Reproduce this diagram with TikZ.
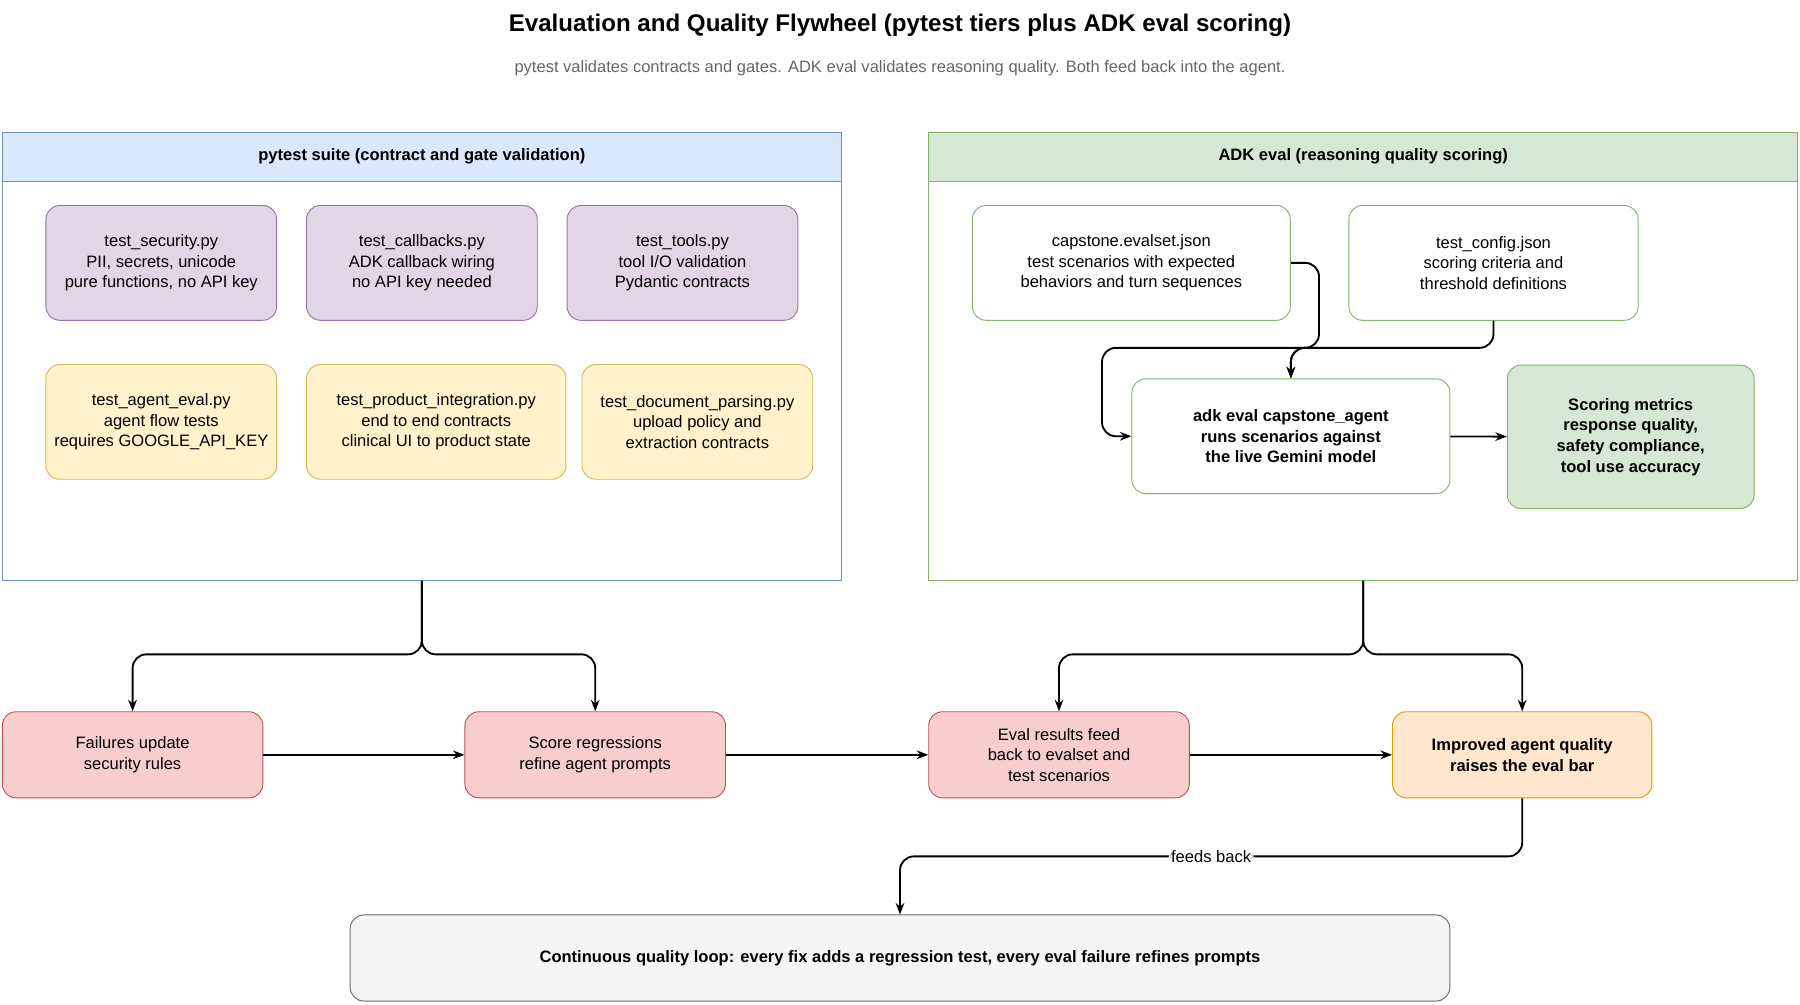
\documentclass[tikz,border=0pt]{standalone}
\usepackage{fontspec}
\setmainfont{Liberation Sans}
\usetikzlibrary{positioning,arrows.meta}
\definecolor{blueF}{HTML}{DAE8FC}\definecolor{blueD}{HTML}{6C8EBF}
\definecolor{greenF}{HTML}{D5E8D4}\definecolor{greenD}{HTML}{82B366}
\definecolor{purpF}{HTML}{E1D5E7}\definecolor{purpD}{HTML}{9673A6}
\definecolor{yelF}{HTML}{FFF2CC}\definecolor{yelD}{HTML}{D6B656}
\definecolor{redF}{HTML}{F8CECC}\definecolor{redD}{HTML}{B85450}
\definecolor{orF}{HTML}{FFE6CC}\definecolor{orD}{HTML}{D79B00}
\definecolor{grF}{HTML}{F5F5F5}\definecolor{grD}{HTML}{666666}
\tikzset{
  box/.style={draw,rounded corners=6pt,align=center,font=\fontsize{7.2}{9}\selectfont,inner sep=1pt},
  purp/.style={box,fill=purpF,draw=purpD,minimum width=100.5pt,minimum height=50pt},
  yel/.style={box,fill=yelF,draw=yelD,minimum height=50pt},
  wbox/.style={box,draw=greenD,fill=white,minimum height=50pt},
  red/.style={box,fill=redF,draw=redD,minimum width=113.5pt,minimum height=37.5pt},
  arr/.style={-{Stealth[length=5pt]},thick,rounded corners=6pt},
}
\begin{document}
\begin{tikzpicture}[x=0.5pt,y=-0.5pt]
  \useasboundingbox (0,0) rectangle (1568,875);
  \node[font=\bfseries\fontsize{10.5}{12}\selectfont] (title) at (784,22) {Evaluation and Quality Flywheel (pytest tiers plus ADK eval scoring)};
  \node[font=\fontsize{7.2}{9}\selectfont,text=grD] (sub) at (784,59) {pytest validates contracts and gates. ADK eval validates reasoning quality. Both feed back into the agent.};
  % containers
  \draw[blueD] (2,115) rectangle (733,506);
  \node[draw=blueD,fill=blueF,minimum width=365.5pt,minimum height=21.5pt,font=\bfseries\fontsize{7.2}{9}\selectfont] (lhead) at (367.5,136.5) {pytest suite (contract and gate validation)};
  \coordinate (lbot) at (367.5,506);
  \draw[greenD] (809,115) rectangle (1566,506);
  \node[draw=greenD,fill=greenF,minimum width=378.5pt,minimum height=21.5pt,font=\bfseries\fontsize{7.2}{9}\selectfont] (rhead) at (1187.5,136.5) {ADK eval (reasoning quality scoring)};
  \coordinate (rbot) at (1187.5,506);
  % pytest tiers
  \node[purp] (sec) at (140.5,229) {test\_security.py\\PII, secrets, unicode\\pure functions, no API key};
  \node[purp] (cb) at (367.5,229) {test\_callbacks.py\\ADK callback wiring\\no API key needed};
  \node[purp] (tools) at (594.5,229) {test\_tools.py\\tool I/O validation\\Pydantic contracts};
  \node[yel,minimum width=100.5pt] (agent) at (140.5,367.5) {test\_agent\_eval.py\\agent flow tests\\requires GOOGLE\_API\_KEY};
  \node[yel,minimum width=113pt] (prod) at (380,367.5) {test\_product\_integration.py\\end to end contracts\\clinical UI to product state};
  \node[yel,minimum width=100.5pt] (doc) at (607.5,367.5) {test\_document\_parsing.py\\upload policy and\\extraction contracts};
  % ADK eval
  \node[wbox,minimum width=138.5pt] (evalset) at (985.5,229) {capstone.evalset.json\\test scenarios with expected\\behaviors and turn sequences};
  \node[wbox,minimum width=126pt] (cfg) at (1301,229) {test\_config.json\\scoring criteria and\\threshold definitions};
  \node[wbox,minimum width=138.5pt,font=\bfseries\fontsize{7.2}{9}\selectfont] (run) at (1124.5,380) {adk eval capstone\_agent\\runs scenarios against\\the live Gemini model};
  \node[box,fill=greenF,draw=greenD,minimum width=107.5pt,minimum height=62.5pt,font=\bfseries\fontsize{7.2}{9}\selectfont] (score) at (1420.5,380.5) {Scoring metrics\\response quality,\\safety compliance,\\tool use accuracy};
  \draw[arr] (evalset.east) -| (1149,303) -| (run.north);
  \draw[arr] (1149,303) -| (960,380) -- (run.west);
  \draw[arr] (cfg.south) |- (1124.5,303) -- (run.north);
  \draw[arr] (run) -- (score);
  % outcomes
  \node[red] (fail) at (115.5,657.5) {Failures update\\security rules};
  \node[red] (reg) at (518.5,657.5) {Score regressions\\refine agent prompts};
  \node[red] (feed) at (922.5,657.5) {Eval results feed\\back to evalset and\\test scenarios};
  \node[box,fill=orF,draw=orD,minimum width=113pt,minimum height=37.5pt,font=\bfseries\fontsize{7.2}{9}\selectfont] (imp) at (1326,657.5) {Improved agent quality\\raises the eval bar};
  \node[box,fill=grF,draw=grD,minimum width=479pt,minimum height=37.5pt,font=\bfseries\fontsize{7.2}{9}\selectfont] (loop) at (784,834.5) {Continuous quality loop: every fix adds a regression test, every eval failure refines prompts};
  \draw[arr] (lbot) |- (367.5,570) -| (fail.north);
  \draw[arr] (lbot) |- (367.5,570) -| (reg.north);
  \draw[arr] (rbot) |- (1187.5,570) -| (feed.north);
  \draw[arr] (rbot) |- (1187.5,570) -| (imp.north);
  \draw[arr] (fail) -- (reg);
  \draw[arr] (reg) -- (feed);
  \draw[arr] (feed) -- (imp);
  \draw[arr] (imp.south) |- (784,746) node[pos=0.75,fill=white,inner sep=1pt,font=\fontsize{7.2}{9}\selectfont] (fb) {feeds back} -- (loop.north -| 784,0);
\end{tikzpicture}
\end{document}
